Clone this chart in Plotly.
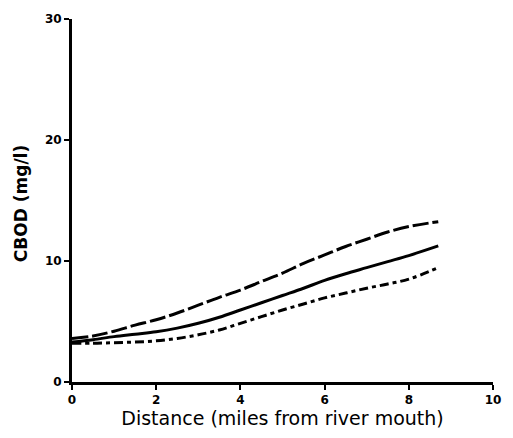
import plotly.graph_objects as go

# Distance along the river (miles from the mouth)
distance = [0, 0.5, 1, 1.5, 2, 2.5, 3, 3.5, 4, 4.5, 5, 5.5, 6, 6.5, 7, 7.5, 8, 8.7]

# CBOD profiles (mg/l)
cbod_upper = [3.6, 3.8, 4.2, 4.7, 5.15, 5.7, 6.35, 7.0, 7.6, 8.3, 9.0, 9.8, 10.5, 11.2, 11.8, 12.4, 12.85, 13.25]
cbod_middle = [3.3, 3.5, 3.75, 3.95, 4.15, 4.45, 4.85, 5.35, 5.95, 6.55, 7.15, 7.75, 8.4, 8.95, 9.45, 9.95, 10.45, 11.25]
cbod_lower = [3.2, 3.2, 3.25, 3.3, 3.4, 3.6, 3.9, 4.3, 4.85, 5.4, 5.95, 6.45, 6.95, 7.35, 7.75, 8.1, 8.5, 9.45]

x_ticks = [0, 2, 4, 6, 8, 10]
y_ticks = [0, 10, 20, 30]

fig = go.Figure()
fig.add_trace(go.Scatter(x=distance, y=cbod_upper, mode="lines", line_shape="spline",
                         line=dict(color="black", width=3, dash="16px,4px")))
fig.add_trace(go.Scatter(x=distance, y=cbod_middle, mode="lines", line_shape="spline",
                         line=dict(color="black", width=3)))
fig.add_trace(go.Scatter(x=distance, y=cbod_lower, mode="lines", line_shape="spline",
                         line=dict(color="black", width=3, dash="9px,4px,4px,4px")))

axis_common = dict(
    showline=True, linecolor="black", linewidth=3,
    ticks="outside", ticklen=5, tickwidth=2, tickcolor="black",
    showgrid=False, zeroline=False,
    tickfont=dict(family="DejaVu Sans", size=12, color="black", weight="bold"),
)

fig.update_layout(
    width=513, height=438,
    margin=dict(l=72, r=12, t=17, b=55),
    paper_bgcolor="white", plot_bgcolor="white",
    showlegend=False,
    xaxis=dict(range=[0, 10], tickvals=x_ticks, **axis_common,
               title=dict(text="Distance (miles from river mouth)", standoff=5,
                          font=dict(family="DejaVu Sans", size=19, color="black"))),
    yaxis=dict(range=[0, 30], tickvals=y_ticks, **axis_common),
    annotations=[dict(text="CBOD (mg/l)", textangle=-90, showarrow=False,
                      xref="paper", yref="paper", x=-0.121, y=0.49,
                      xanchor="center", yanchor="middle",
                      font=dict(family="DejaVu Sans", size=17, color="black", weight="bold"))],
)

fig.write_html("out.html")
